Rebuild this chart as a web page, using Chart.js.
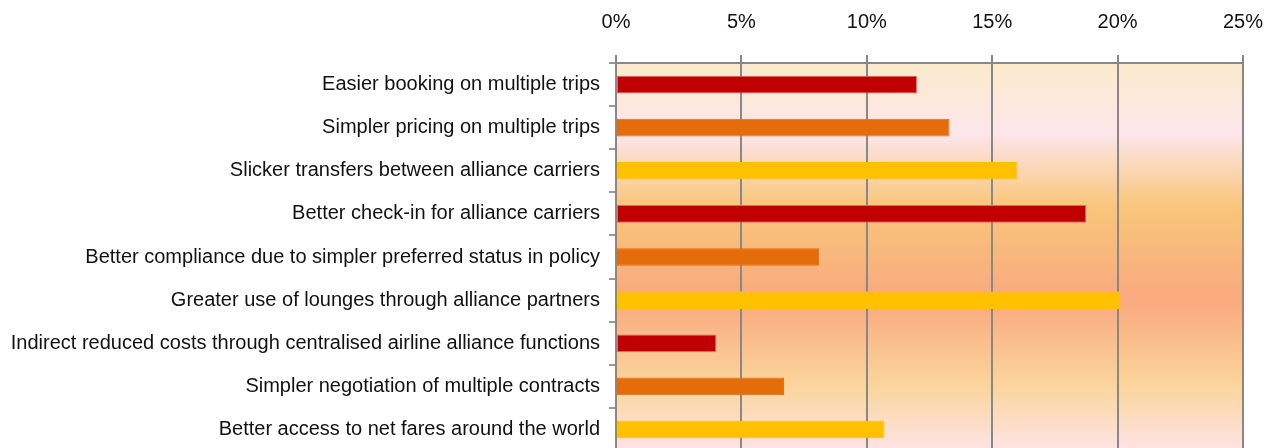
<!DOCTYPE html>
<html>
<head>
<meta charset="utf-8">
<script src="https://cdn.jsdelivr.net/npm/chart.js@4/dist/chart.umd.min.js"></script>
<style>
  html, body { margin: 0; padding: 0; background: #fff; overflow: hidden; }
  .wrap { position: relative; width: 1276px; height: 472px; }
</style>
</head>
<body>
<div class="wrap"><canvas id="benefits"></canvas></div>
<script>
// benefit statements, top to bottom
const benefits = [
  'Easier booking on multiple trips',
  'Simpler pricing on multiple trips',
  'Slicker transfers between alliance carriers',
  'Better check-in for alliance carriers',
  'Better compliance due to simpler preferred status in policy',
  'Greater use of lounges through alliance partners',
  'Indirect reduced costs through centralised airline alliance functions',
  'Simpler negotiation of multiple contracts',
  'Better access to net fares around the world',
];

// share of respondents, in percent
const shares = [12.0, 13.3, 16.0, 18.75, 8.1, 20.1, 4.0, 6.7, 10.7];

// axis ticks along the top
const tickValues = [0, 5, 10, 15, 20, 25];

// bar colours repeat red / orange / gold
const palette = ['#C00000', '#E46C0A', '#FFC000'];
const edgePalette = ['#E06A6A', '#E46C0A', '#FFC000'];

const barColors = benefits.map((_, i) => palette[i % 3]);
const barEdges = benefits.map((_, i) => edgePalette[i % 3]);

// warm vertical gradient behind the plot area
const plotBackground = {
  id: 'plotBackground',
  beforeDraw(chart) {
    const { ctx, chartArea } = chart;
    const { left, top, width, height } = chartArea;
    const grad = ctx.createLinearGradient(0, top, 0, top + height);
    grad.addColorStop(0, '#FBEACB');
    grad.addColorStop(0.18, '#FDE6EC');
    grad.addColorStop(0.37, '#F8C67A');
    grad.addColorStop(0.61, '#F9A97E');
    grad.addColorStop(0.83, '#FBD59B');
    grad.addColorStop(1, '#FDE3E6');
    ctx.save();
    ctx.fillStyle = grad;
    ctx.fillRect(left, top, width, height);
    ctx.restore();
  },
};

const labelFont = { family: "'Liberation Sans', Arial, sans-serif", size: 20 };

new Chart(document.getElementById('benefits'), {
  type: 'bar',
  data: {
    labels: benefits,
    datasets: [{
      data: shares,
      backgroundColor: barColors,
      borderColor: barEdges,
      borderWidth: 1,
      borderSkipped: false,
      categoryPercentage: 1,
      barPercentage: 0.41,
    }],
  },
  options: {
    indexAxis: 'y',
    responsive: true,
    maintainAspectRatio: false,
    animation: false,
    layout: { padding: { left: 0, right: 33, top: 0, bottom: 0 } },
    plugins: {
      legend: { display: false },
      tooltip: { enabled: false },
    },
    scales: {
      x: {
        position: 'top',
        min: 0,
        max: 25,
        afterFit: (scale) => {
          scale.height = 63;
          // keep the plot edge fixed regardless of the end labels
          scale.paddingLeft = 0;
          scale.paddingRight = 0;
        },
        afterBuildTicks: (scale) => {
          scale.ticks = tickValues.map((v) => ({ value: v }));
        },
        ticks: {
          color: '#111',
          font: labelFont,
          padding: 21,
          callback: (v) => v + '%',
        },
        grid: {
          color: '#888',
          lineWidth: 2,
          tickLength: 8,
        },
        border: { color: '#888', width: 2 },
      },
      y: {
        afterFit: (scale) => { scale.width = 616; },
        ticks: {
          color: '#111',
          font: labelFont,
          padding: 9,
        },
        grid: {
          drawOnChartArea: false,
          color: '#999',
          lineWidth: 2,
          tickLength: 7,
        },
        border: { color: '#888', width: 2 },
      },
    },
  },
  plugins: [plotBackground],
});
</script>
</body>
</html>
